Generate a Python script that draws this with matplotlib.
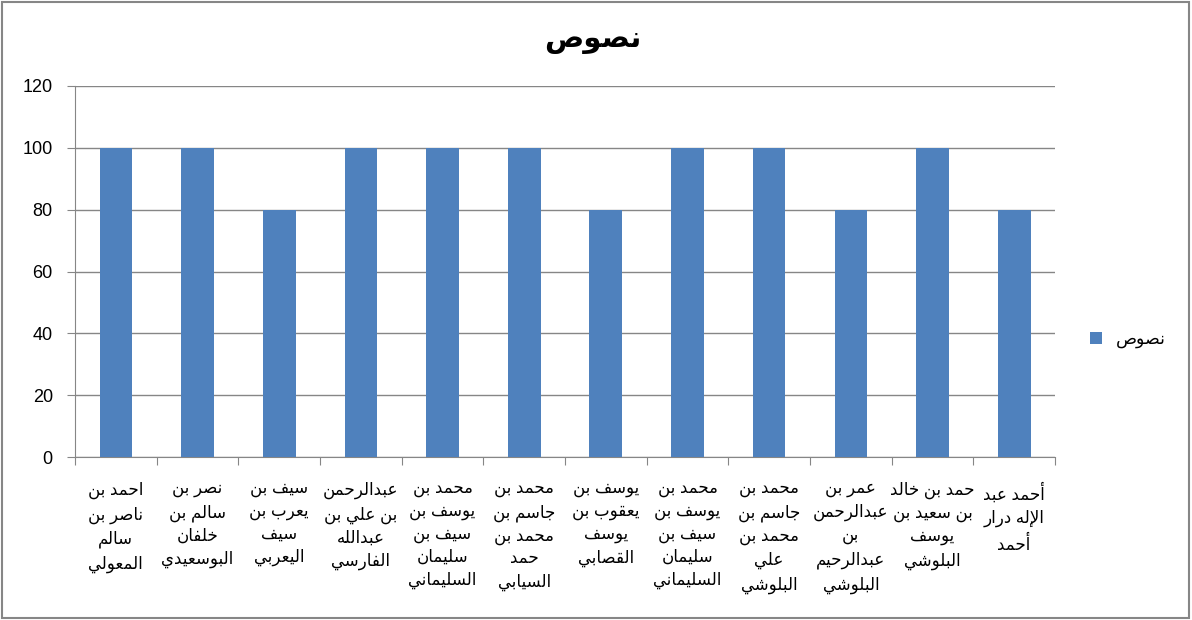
import numpy as np
import matplotlib
matplotlib.use("Agg")
import matplotlib.pyplot as plt
from matplotlib.patches import Rectangle

# chart data
title = "نصوص"
series_name = "نصوص"
names = [
    "احمد بن\nناصر بن\nسالم\nالمعولي",
    "نصر بن\nسالم بن\nخلفان\nالبوسعيدي",
    "سيف بن\nيعرب بن\nسيف\nاليعربي",
    "عبدالرحمن\nبن علي بن\nعبدالله\nالفارسي",
    "محمد بن\nيوسف بن\nسيف بن\nسليمان\nالسليماني",
    "محمد بن\nجاسم بن\nمحمد بن\nحمد\nالسيابي",
    "يوسف بن\nيعقوب بن\nيوسف\nالقصابي",
    "محمد بن\nيوسف بن\nسيف بن\nسليمان\nالسليماني",
    "محمد بن\nجاسم بن\nمحمد بن\nعلي\nالبلوشي",
    "عمر بن\nعبدالرحمن\nبن\nعبدالرحيم\nالبلوشي",
    "حمد بن خالد\nبن سعيد بن\nيوسف\nالبلوشي",
    "أحمد عبد\nالإله درار\nأحمد",
]
values = [100, 100, 80, 100, 100, 100, 80, 100, 100, 80, 100, 80]
yticks = [0, 20, 40, 60, 80, 100, 120]

# --- small arabic shaper (matplotlib has no bidi / joining) ---
# forms: isolated, final, initial, medial
FORMS = {
    "ء": (0xFE80,), "آ": (0xFE81, 0xFE82), "أ": (0xFE83, 0xFE84),
    "ؤ": (0xFE85, 0xFE86), "إ": (0xFE87, 0xFE88),
    "ئ": (0xFE89, 0xFE8A, 0xFE8B, 0xFE8C), "ا": (0xFE8D, 0xFE8E),
    "ب": (0xFE8F, 0xFE90, 0xFE91, 0xFE92), "ة": (0xFE93, 0xFE94),
    "ت": (0xFE95, 0xFE96, 0xFE97, 0xFE98), "ث": (0xFE99, 0xFE9A, 0xFE9B, 0xFE9C),
    "ج": (0xFE9D, 0xFE9E, 0xFE9F, 0xFEA0), "ح": (0xFEA1, 0xFEA2, 0xFEA3, 0xFEA4),
    "خ": (0xFEA5, 0xFEA6, 0xFEA7, 0xFEA8), "د": (0xFEA9, 0xFEAA),
    "ذ": (0xFEAB, 0xFEAC), "ر": (0xFEAD, 0xFEAE), "ز": (0xFEAF, 0xFEB0),
    "س": (0xFEB1, 0xFEB2, 0xFEB3, 0xFEB4), "ش": (0xFEB5, 0xFEB6, 0xFEB7, 0xFEB8),
    "ص": (0xFEB9, 0xFEBA, 0xFEBB, 0xFEBC), "ض": (0xFEBD, 0xFEBE, 0xFEBF, 0xFEC0),
    "ط": (0xFEC1, 0xFEC2, 0xFEC3, 0xFEC4), "ظ": (0xFEC5, 0xFEC6, 0xFEC7, 0xFEC8),
    "ع": (0xFEC9, 0xFECA, 0xFECB, 0xFECC), "غ": (0xFECD, 0xFECE, 0xFECF, 0xFED0),
    "ف": (0xFED1, 0xFED2, 0xFED3, 0xFED4), "ق": (0xFED5, 0xFED6, 0xFED7, 0xFED8),
    "ك": (0xFED9, 0xFEDA, 0xFEDB, 0xFEDC), "ل": (0xFEDD, 0xFEDE, 0xFEDF, 0xFEE0),
    "م": (0xFEE1, 0xFEE2, 0xFEE3, 0xFEE4), "ن": (0xFEE5, 0xFEE6, 0xFEE7, 0xFEE8),
    "ه": (0xFEE9, 0xFEEA, 0xFEEB, 0xFEEC), "و": (0xFEED, 0xFEEE),
    "ى": (0xFEEF, 0xFEF0), "ي": (0xFEF1, 0xFEF2, 0xFEF3, 0xFEF4),
}
LAM_ALEF = {"آ": (0xFEF5, 0xFEF6), "أ": (0xFEF7, 0xFEF8),
            "إ": (0xFEF9, 0xFEFA), "ا": (0xFEFB, 0xFEFC)}


def dual(c):
    return c in FORMS and len(FORMS[c]) == 4


def shape_line(s):
    # merge lam + alef into ligature tokens
    toks = []
    i = 0
    while i < len(s):
        if s[i] == "ل" and i + 1 < len(s) and s[i + 1] in LAM_ALEF:
            toks.append(("LA", s[i + 1]))
            i += 2
        else:
            toks.append(("C", s[i]))
            i += 1
    out = []
    for k, (kind, c) in enumerate(toks):
        prev = toks[k - 1] if k > 0 else None
        nxt = toks[k + 1] if k + 1 < len(toks) else None
        join_prev = prev is not None and prev[0] == "C" and dual(prev[1])
        if kind == "LA":
            out.append(chr(LAM_ALEF[c][1 if join_prev else 0]))
            continue
        if c not in FORMS:
            out.append(c)
            continue
        f = FORMS[c]
        join_next = dual(c) and nxt is not None and (nxt[0] == "LA" or nxt[1] in FORMS)
        if len(f) == 1:
            out.append(chr(f[0]))
        elif len(f) == 2:
            out.append(chr(f[1] if join_prev else f[0]))
        else:
            if join_prev and join_next:
                out.append(chr(f[3]))
            elif join_prev:
                out.append(chr(f[1]))
            elif join_next:
                out.append(chr(f[2]))
            else:
                out.append(chr(f[0]))
    return "".join(out)[::-1]


def ar(text):
    return "\n".join(shape_line(line) for line in text.split("\n"))


FONT = ["Liberation Sans", "DejaVu Sans"]
plt.rcParams["font.family"] = FONT

fig = plt.figure(figsize=(11.92, 6.20), dpi=100)
ax = fig.add_axes([75 / 1192, 1 - 457 / 620, 980 / 1192, 371 / 620])

x = np.arange(len(values))
bars = ax.bar(x, values, width=0.4, color="#4F81BD", zorder=3, label=ar(series_name))

ax.set_xlim(-0.5, len(values) - 0.5)
ax.set_ylim(0, 120)
ax.set_yticks(yticks)
ax.set_yticklabels([str(v) for v in yticks], fontsize=13)
ax.yaxis.grid(True, color="#868686", linewidth=1, zorder=0)

ax.set_xticks(np.arange(len(values) + 1) - 0.5)
ax.set_xticklabels([])
ax.set_xticks(x, minor=True)
ax.set_xticklabels([ar(n) for n in names], minor=True, fontsize=12,
                   linespacing=1.55, va="top")
ax.tick_params(axis="x", which="minor", length=0, pad=18)
ax.tick_params(axis="x", which="major", length=6, color="#868686")
ax.tick_params(axis="y", length=6, color="#868686", pad=10)

for side in ["top", "right"]:
    ax.spines[side].set_visible(False)
for side in ["left", "bottom"]:
    ax.spines[side].set_color("#868686")

fig.text(593 / 1192, 1 - 40 / 620, ar(title), ha="center", va="center",
         fontsize=21, fontweight="bold")

ax.legend(loc="center left", bbox_to_anchor=(1.02, 0.315), frameon=False,
          fontsize=12.5, handlelength=0.7, handleheight=0.7)

fig.patches.append(Rectangle((2 / 1192, 2 / 620), 1187 / 1192, 616 / 620,
                             transform=fig.transFigure, fill=False,
                             edgecolor="#868686", linewidth=1.5))

fig.savefig("out.png", dpi=100)
